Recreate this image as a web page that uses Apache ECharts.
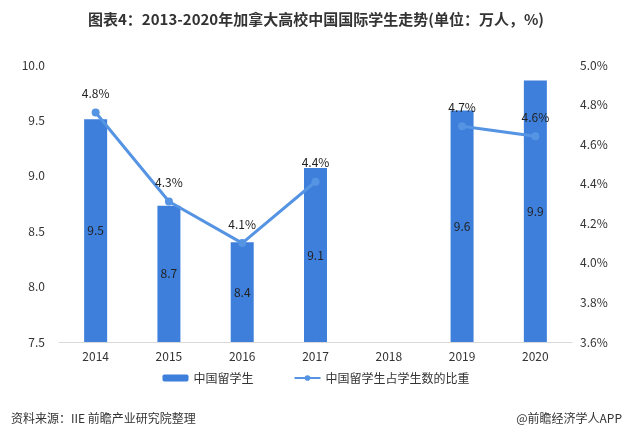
<!DOCTYPE html>
<html><head><meta charset="utf-8">
<script src="https://cdn.jsdelivr.net/npm/echarts@6/dist/echarts.min.js"></script>
<style>html,body{margin:0;padding:0;background:#fff}#c{width:632px;height:439px}</style>
</head><body><div id="c"></div>
<script>
const categories = ['2014','2015','2016','2017','2018','2019','2020'];
const students = [9.51, 8.73, 8.40, 9.07, null, 9.59, 9.86];
const shares = [4.76, 4.31, 4.10, 4.41, null, 4.69, 4.64];
const leftTicks = {min: 7.5, max: 10.0, interval: 0.5};
const rightTicks = {min: 3.6, max: 5.0, interval: 0.2};

const font = '"Noto Sans CJK SC","Noto Sans",sans-serif';
const chart = echarts.init(document.getElementById('c'));
chart.setOption({
  animation: false,
  textStyle: {fontFamily: font},
  title: [
    {text: '图表4：2013-2020年加拿大高校中国国际学生走势(单位：万人，%)', left: 'center', top: 7,
     textStyle: {fontSize: 15, fontWeight: 'bold', color: '#333', fontFamily: font}},
    {text: '资料来源：IIE 前瞻产业研究院整理', left: 6, top: 407,
     textStyle: {fontSize: 12, fontWeight: 'normal', color: '#333', fontFamily: font}},
    {text: '@前瞻经济学人APP', right: 5, top: 407,
     textStyle: {fontSize: 12, fontWeight: 'normal', color: '#333', fontFamily: font}}
  ],
  legend: {
    bottom: 50, left: 'center', itemGap: 40, itemWidth: 26, itemHeight: 7,
    textStyle: {fontSize: 12, color: '#333'},
    data: ['中国留学生', '中国留学生占学生数的比重']
  },
  grid: {left: 59, right: 60, top: 65, bottom: 97},
  xAxis: {
    type: 'category', data: categories,
    axisLine: {lineStyle: {color: '#d9d9d9'}},
    axisTick: {show: false},
    axisLabel: {color: '#333', fontSize: 12, margin: 8}
  },
  yAxis: [
    {type: 'value', min: leftTicks.min, max: leftTicks.max, interval: leftTicks.interval,
     splitLine: {show: false}, axisLine: {show: false}, axisTick: {show: false},
     axisLabel: {color: '#333', fontSize: 12, margin: 14, formatter: v => v.toFixed(1)}},
    {type: 'value', min: rightTicks.min, max: rightTicks.max, interval: rightTicks.interval,
     splitLine: {show: false}, axisLine: {show: false}, axisTick: {show: false},
     axisLabel: {color: '#333', fontSize: 12, margin: 8, formatter: v => v.toFixed(1) + '%'}}
  ],
  series: [
    {name: '中国留学生', type: 'bar', data: students, barWidth: 23,
     itemStyle: {color: '#3D7FDB'},
     label: {show: true, position: 'inside', color: '#222', fontSize: 12,
             formatter: p => p.value == null ? '' : p.value.toFixed(1)}},
    {name: '中国留学生占学生数的比重', type: 'line', yAxisIndex: 1, data: shares,
     connectNulls: false, symbol: 'circle', symbolSize: 8,
     lineStyle: {color: '#5593E3', width: 3}, itemStyle: {color: '#5593E3'},
     label: {show: true, position: 'top', distance: 9, color: '#222', fontSize: 12,
             formatter: p => p.value == null ? '' : p.value.toFixed(1) + '%'}}
  ]
});
</script></body></html>
